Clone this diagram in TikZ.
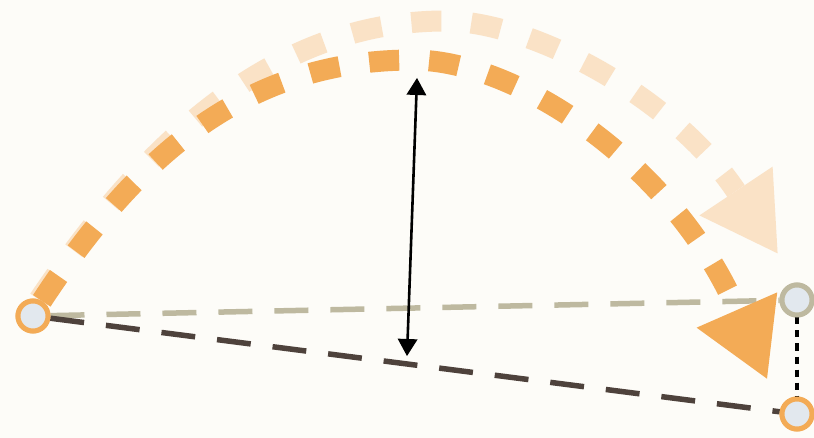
\documentclass[tikz,border=0pt]{standalone}
\usepackage{tikz}
\usetikzlibrary{arrows.meta}

\definecolor{paper}{RGB}{253,252,248}
\definecolor{arcdark}{RGB}{243,171,86}
\definecolor{arclight}{RGB}{250,226,198}
\definecolor{linegray}{RGB}{190,185,160}
\definecolor{linedark}{RGB}{78,66,60}
\definecolor{pointfill}{RGB}{226,232,238}

\begin{document}
\begin{tikzpicture}
		[x=1pt, y=-1pt,
		end point/.style={circle, draw=#1, line width=5pt, fill=pointfill, minimum size=30pt, inner sep=0pt},
		end point/.default=arcdark,
		flat line/.style={line width=5.5pt, color=#1, dash pattern=on 34pt off 22pt},
		jump arc/.style={line width=21pt, color=#1, dash pattern=on 30pt off 30pt,
			-{Triangle[length=75pt, width=88pt, line width=0pt]}},
		height arrow/.style={line width=2.6pt, black,
			{Triangle[length=17pt, width=20pt, line width=0pt]}-{Triangle[length=17pt, width=20pt, line width=0pt]}}]
		
		\fill[paper] (0,0) rectangle (814,438);
		\useasboundingbox (0,0) rectangle (814,438);
		
		\node[end point] (A) at (33,316) {};
		\node[end point=linegray] (B) at (797,300) {};
		\node[end point] (C) at (797,414) {};
		
		\coordinate (peak light) at (445,21);
		\coordinate (peak dark) at (413,60);
		\coordinate (tip light) at (777.6,253.4);
		\coordinate (tip dark) at (767,378.7);
		\coordinate (top) at (417,78);
		\coordinate (bottom) at (407,356);
		
		% straight lines
		\draw[flat line=linegray] (A) -- (B);
		\draw[flat line=linedark] (A) -- (C);
		\draw[line width=3.5pt, dash pattern=on 7pt off 6pt] (B) -- (C);
		
		% the two jumps
		\draw[jump arc=arclight] (A.70) .. controls (128,168) and (257,21) .. (peak light)
			.. controls (532,21) and (674,98) .. (tip light);
		\draw[jump arc=arcdark] (A.60) .. controls (137,156) and (245,60) .. (peak dark)
			.. controls (517,60) and (673,164) .. (tip dark);
		
		\draw[height arrow] (bottom) -- (top);
		
		% points on top
		\node[end point] at (A) {};
		\node[end point=linegray] at (B) {};
		\node[end point] at (C) {};

	\end{tikzpicture}
\end{document}
